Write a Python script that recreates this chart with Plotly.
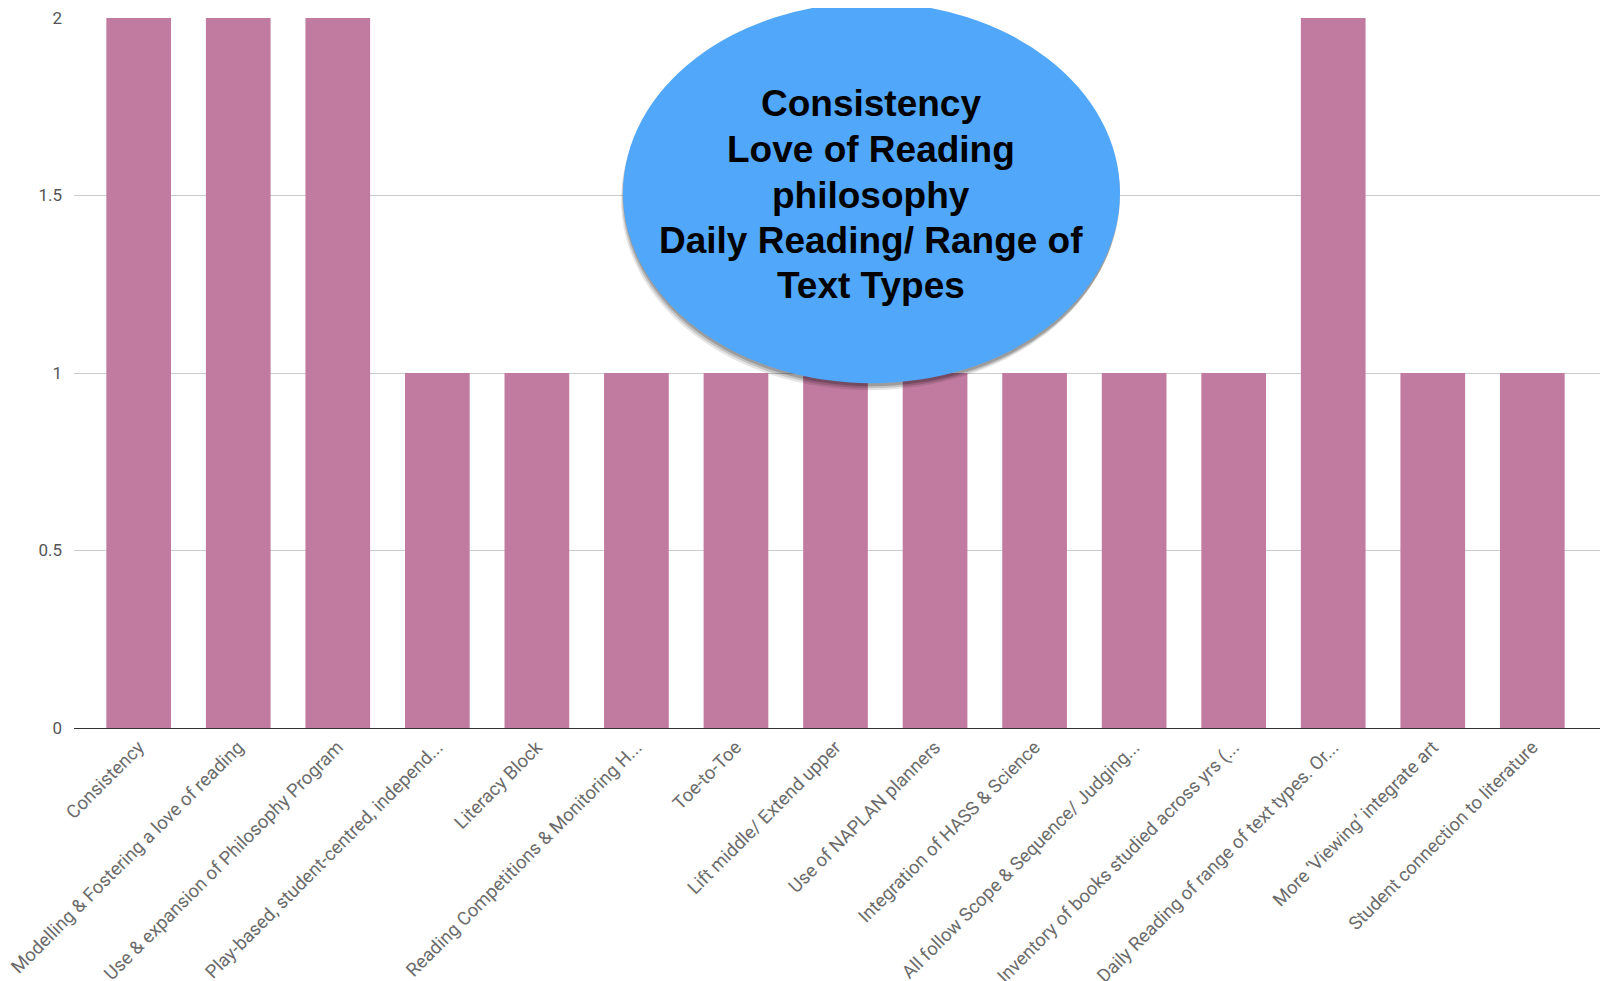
import plotly.graph_objects as go

categories = [
    "Consistency",
    "Modelling & Fostering a love of reading",
    "Use & expansion of Philosophy Program",
    "Play-based, student-centred, independ...",
    "Literacy Block",
    "Reading Competitions & Monitoring H...",
    "Toe-to-Toe",
    "Lift middle/ Extend upper",
    "Use of NAPLAN planners",
    "Integration of HASS & Science",
    "All follow Scope & Sequence/ Judging...",
    "Inventory of books studied across yrs (...",
    "Daily Reading of range of text types. Or...",
    "More \u2018Viewing\u2019 integrate art",
    "Student connection to literature",
]
values = [2, 2, 2, 1, 1, 1, 1, 1, 1, 1, 1, 1, 2, 1, 1]
y_ticks = [0, 0.5, 1, 1.5, 2]
y_ticktext = ["0", "0.5", "1", "1.5", "2"]
bubble_lines = ["Consistency", "Love of Reading", "philosophy",
                "Daily Reading/ Range of", "Text Types"]

x_idx = list(range(len(categories)))

# page body has an 8px margin; figure sized to fit the window
OFF = 8
W, H = 1616 - OFF, 981 - OFF
L, R, T, B = 74 - OFF, 16, 17.5 - OFF, 253
PW, PH = W - L - R, H - T - B


def px_x(x):
    # x in window pixels -> paper fraction
    return (x - OFF - L) / PW


def px_y(y):
    return (H - B - (y - OFF)) / PH


fig = go.Figure()
fig.add_trace(go.Bar(
    x=x_idx, y=values, width=0.65,
    marker=dict(color="#C27BA0", line=dict(width=0)),
    hoverinfo="skip",
))

fig.update_layout(
    width=W, height=H,
    margin=dict(l=L, r=R, t=T, b=B, autoexpand=False),
    plot_bgcolor="white", paper_bgcolor="white",
    showlegend=False,
    font=dict(family="Roboto", color="#666666", size=17),
    xaxis=dict(
        range=[-0.65, 14.68], automargin=False, ticklabeloverflow="allow",
        tickmode="array", tickvals=x_idx, ticktext=categories,
        tickangle=-45, showgrid=False, showline=True,
        linecolor="#333333", linewidth=1.3,
        tickfont=dict(family="Roboto", size=18.5, color="#6b6b6b"),
        zeroline=False,
    ),
    yaxis=dict(
        range=[0, 2], automargin=False, ticklabeloverflow="allow",
        tickmode="array", tickvals=y_ticks, ticktext=y_ticktext,
        showgrid=True, gridcolor="#cccccc", gridwidth=1, zeroline=False,
        showline=False, ticklabelstandoff=11,
        tickfont=dict(family="Roboto", size=17, color="#555555"),
    ),
)

# bubble shadow (soft, mostly below)
for dx, dy, a in [(-2, 7, 0.10), (-1, 5, 0.15), (0, 3, 0.20)]:
    fig.add_shape(type="circle", xref="paper", yref="paper",
                  x0=px_x(623 + dx), x1=px_x(1120 + dx),
                  y0=px_y(383 + dy), y1=px_y(2 + dy),
                  fillcolor=f"rgba(0,0,0,{a})", line=dict(width=0), layer="above")
fig.add_shape(type="circle", xref="paper", yref="paper",
              x0=px_x(623), x1=px_x(1120), y0=px_y(383), y1=px_y(2),
              fillcolor="#51A7F9", line=dict(width=0), layer="above")

line_y = [103, 149.4, 194.8, 240.1, 285.5]
for txt, yy in zip(bubble_lines, line_y):
    fig.add_annotation(
        xref="paper", yref="paper", x=px_x(871), y=px_y(yy),
        text=txt, showarrow=False, align="center",
        font=dict(family="Liberation Sans, Arial", size=37, color="black", weight="bold"),
        xanchor="center", yanchor="middle",
    )

fig.write_html("out.html")
